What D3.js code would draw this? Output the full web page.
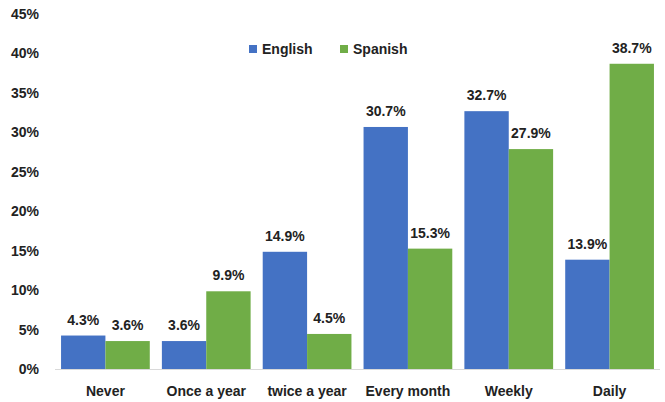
<!DOCTYPE html>
<html>
<head>
<meta charset="utf-8">
<script src="https://cdn.jsdelivr.net/npm/d3@7"></script>
<style>
  html, body { margin: 0; padding: 0; background: #fff; }
  svg text { font-family: "Liberation Sans Narrow", "Liberation Sans", Arial, sans-serif; font-weight: bold; fill: #222; }
</style>
</head>
<body>
<svg id="chart" width="665" height="402"></svg>
<script>
// How often people use each language
const categories = ["Never", "Once a year", "twice a year", "Every month", "Weekly", "Daily"];
const seriesNames = ["English", "Spanish"];
const englishValues = [4.3, 3.6, 14.9, 30.7, 32.7, 13.9];
const spanishValues = [3.6, 9.9, 4.5, 15.3, 27.9, 38.7];
const yTicks = [0, 5, 10, 15, 20, 25, 30, 35, 40, 45];
const colors = ["#4472C4", "#70AD47"];

const svg = d3.select("#chart");
const fontSize = 14;

const x = d3.scaleBand()
  .domain(categories)
  .range([55, 660])
  .paddingInner(0.12)
  .paddingOuter(0.06);

const xSeries = d3.scaleBand()
  .domain(seriesNames)
  .range([0, x.bandwidth()]);

const y = d3.scaleLinear()
  .domain([0, 45])
  .range([369.5, 14]);

const rows = categories.map((c, i) => ({
  category: c,
  values: [
    { series: "English", value: englishValues[i] },
    { series: "Spanish", value: spanishValues[i] }
  ]
}));

// Bars
const groups = svg.append("g")
  .selectAll("g")
  .data(rows)
  .join("g")
  .attr("transform", d => `translate(${x(d.category)},0)`);

groups.selectAll("rect")
  .data(d => d.values)
  .join("rect")
  .attr("x", d => xSeries(d.series))
  .attr("y", d => y(d.value))
  .attr("width", xSeries.bandwidth())
  .attr("height", d => y(0) - y(d.value))
  .attr("fill", d => colors[seriesNames.indexOf(d.series)]);

// Value labels
groups.selectAll("text.val")
  .data(d => d.values)
  .join("text")
  .attr("class", "val")
  .attr("x", d => xSeries(d.series) + xSeries.bandwidth() / 2)
  .attr("y", d => y(d.value) - 11)
  .attr("text-anchor", "middle")
  .style("font-size", fontSize + "px")
  .text(d => d.value.toFixed(1) + "%");

// Baseline
svg.append("line")
  .attr("x1", 55).attr("x2", 660)
  .attr("y1", y(0)).attr("y2", y(0))
  .attr("stroke", "#d9d9d9")
  .attr("stroke-width", 1);

// Y axis labels
const yAxis = d3.axisLeft(y)
  .tickValues(yTicks)
  .tickSize(0)
  .tickPadding(0)
  .tickFormat(d => d + "%");

const yg = svg.append("g")
  .attr("transform", "translate(39,0)")
  .call(yAxis);
yg.select(".domain").remove();
yg.selectAll("text")
  .attr("font-family", null)
  .style("font-size", fontSize + "px")
  .attr("fill", "#222");

// X axis labels
const xAxis = d3.axisBottom(x).tickSize(0).tickPadding(0);
const xg = svg.append("g")
  .attr("transform", `translate(0,${y(0) + 17})`)
  .call(xAxis);
xg.select(".domain").remove();
xg.selectAll("text")
  .attr("font-family", null)
  .style("font-size", fontSize + "px")
  .attr("fill", "#222");

// Legend
const legendX = [249, 340];
const legend = svg.append("g")
  .selectAll("g")
  .data(seriesNames)
  .join("g")
  .attr("transform", (d, i) => `translate(${legendX[i]},45)`);
legend.append("rect")
  .attr("width", 8).attr("height", 8)
  .attr("fill", (d, i) => colors[i]);
legend.append("text")
  .attr("x", 13)
  .attr("y", 4)
  .attr("dy", "0.35em")
  .style("font-size", fontSize + "px")
  .text(d => d);
</script>
</body>
</html>
